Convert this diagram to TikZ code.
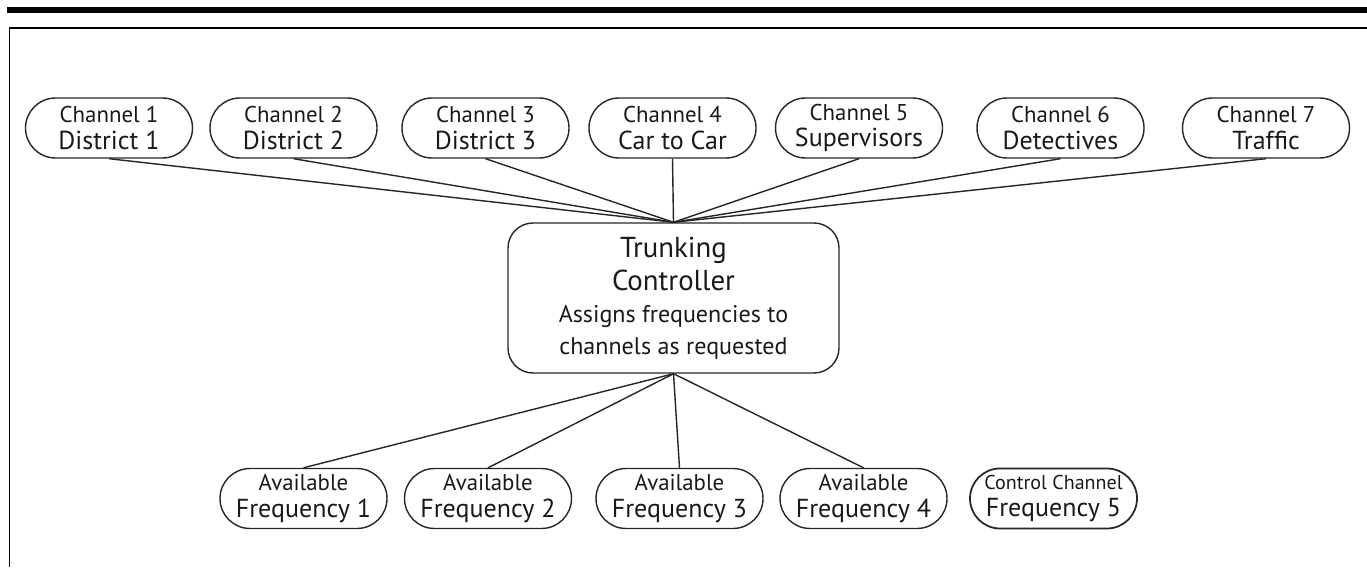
\documentclass[tikz,border=0pt]{standalone}
\usepackage{fontspec}
\setmainfont{PT Sans}
\usetikzlibrary{positioning}

\newcommand{\smtxt}{\fontsize{13}{15.3}\selectfont}
\newcommand{\bigtxt}{\fontsize{14.8}{15.3}\selectfont}
\newcommand{\hdtxt}{\fontsize{16.4}{18.1}\selectfont}
\newcommand{\bodytxt}{\fontsize{13.7}{18.1}\selectfont}

\tikzset{
  bubble/.style={draw=black!85,line width=0.8pt,rounded corners=0.6cm,
    minimum width=3.34cm,minimum height=1.2cm,inner sep=0pt,align=center,
    text=black!90,font=\fontsize{12}{15.3}\selectfont},
  ctrlbox/.style={draw=black!85,line width=0.8pt,rounded corners=0.5cm,
    minimum width=6.62cm,minimum height=3cm,inner sep=0pt,align=center,
    text=black!90,font=\fontsize{14}{18.1}\selectfont},
  conn/.style={draw=black!85,line width=0.8pt}
}

\begin{document}
\begin{tikzpicture}[scale=1]
\useasboundingbox (0,0) rectangle (27.34,11.34);

% frame
\draw[line width=3.4pt] (0.14,11.14) -- (27.34,11.14);
\draw[line width=1.1pt] (0.19,0) -- (0.19,10.78) -- (27.34,10.78);

% channels
\node (ch1) [bubble] at (2.18,8.78)  {{\smtxt Channel 1}\\{\bigtxt District 1}};
\node (ch2) [bubble] at (5.87,8.78)  {{\smtxt Channel 2}\\{\bigtxt District 2}};
\node (ch3) [bubble] at (9.71,8.78)  {{\smtxt Channel 3}\\{\bigtxt District 3}};
\node (ch4) [bubble] at (13.45,8.78) {{\smtxt Channel 4}\\{\bigtxt Car to Car}};
\node (ch5) [bubble] at (17.18,8.78) {{\smtxt Channel 5}\\{\bigtxt Supervisors}};
\node (ch6) [bubble] at (21.21,8.78) {{\smtxt Channel 6}\\{\bigtxt Detectives}};
\node (ch7) [bubble] at (25.32,8.78) {{\smtxt Channel 7}\\{\bigtxt Traffic}};

% controller
\node (ctrl) [ctrlbox] at (13.47,5.38)
  {{\hdtxt Trunking}\\[1.2pt]{\hdtxt Controller}\\
   {\bodytxt Assigns frequencies to}\\{\bodytxt channels as requested}};

% frequencies
\node (fr1) [bubble] at (6.07,1.37)  {{\smtxt Available}\\{\bigtxt Frequency 1}};
\node (fr2) [bubble] at (9.76,1.37)  {{\smtxt Available}\\{\bigtxt Frequency 2}};
\node (fr3) [bubble] at (13.59,1.37) {{\smtxt Available}\\{\bigtxt Frequency 3}};
\node (fr4) [bubble] at (17.27,1.37) {{\smtxt Available}\\{\bigtxt Frequency 4}};
\node (fr5) [bubble,line width=1pt] at (21.07,1.37)
  {{\fontsize{11.4}{15.3}\selectfont Control Channel}\\{\bigtxt Frequency 5}};

\foreach \i in {1,...,7}
  \draw[conn] (ch\i.south) -- (ctrl.north);
\foreach \i in {1,...,4}
  \draw[conn] (ctrl.south) -- (fr\i.north);
\end{tikzpicture}
\end{document}
